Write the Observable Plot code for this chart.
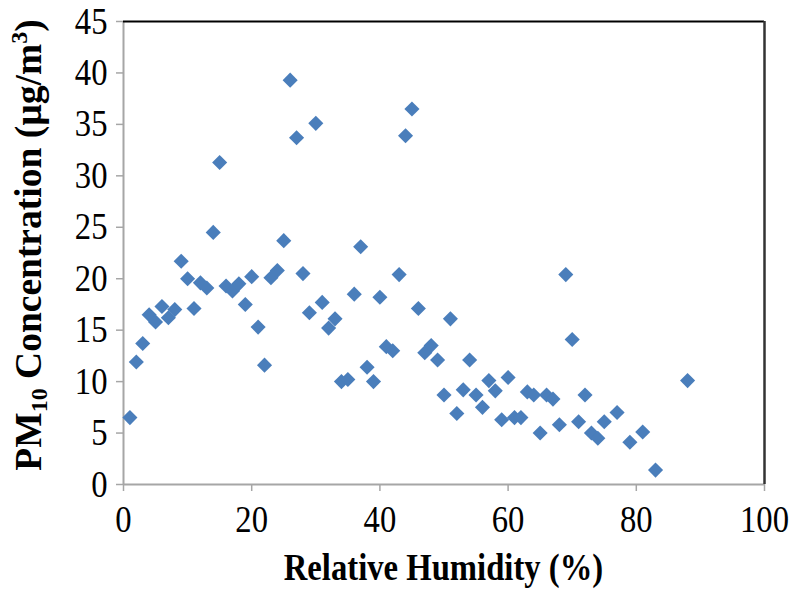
<!DOCTYPE html>
<html><head><meta charset="utf-8">
<script src="https://cdn.jsdelivr.net/npm/d3@7"></script>
<script src="https://cdn.jsdelivr.net/npm/@observablehq/plot@0.6"></script>
<style>body{margin:0;background:#fff}</style>
</head><body><div id="chart"></div>
<script>
// Relative humidity (%) for each observation
const humidity = [1,2,3,4,5,6,7,8,9,10,11,12,13,14,15,16,17,18,19,20,21,22,23,24,25,26,27,28,29,30,31,32,33,34,35,36,37,38,39,40,41,42,43,44,45,46,47,48,49,50,51,52,53,54,55,56,57,58,59,60,61,62,63,64,65,66,67,68,69,70,71,72,73,74,75,77,79,81,83,88];
// PM10 concentration (µg/m3) for each observation
const pm10 = [6.5,11.9,13.7,16.5,15.8,17.3,16.2,17.0,21.7,20.0,17.1,19.6,19.1,24.5,31.3,19.3,18.8,19.5,17.5,20.2,15.3,11.6,20.1,20.8,23.7,39.3,33.7,20.5,16.7,35.1,17.7,15.2,16.1,10.0,10.2,18.5,23.1,11.4,10.0,18.2,13.4,13.0,20.4,33.9,36.5,17.1,12.8,13.5,12.1,8.7,16.1,6.9,9.2,12.1,8.7,7.5,10.1,9.1,6.3,10.4,6.5,6.5,9.0,8.7,5.0,8.7,8.3,5.8,20.4,14.1,6.1,8.7,5.0,4.5,6.1,7.0,4.1,5.1,1.4,10.1];
const xTicks = [0,20,40,60,80,100];
const yTicks = [0,5,10,15,20,25,30,35,40,45];
const xTitle = "Relative Humidity (%)";

const data = humidity.map((h, i) => ({h, pm: pm10[i]}));

const chart = Plot.plot({
  width: 797, height: 595,
  marginLeft: 123, marginRight: 33, marginTop: 21, marginBottom: 111,
  style: {fontFamily: "Liberation Serif", fontSize: "32.7px", background: "#fff", color: "#000", overflow: "visible"},
  x: {domain: [0, 100]},
  y: {domain: [0, 45]},
  marks: [
    Plot.axisX({ticks: xTicks, tickSize: 7, tickPadding: 14, stroke: "#a6a6a6", strokeWidth: 1.5, label: null, tickFormat: d => d}),
    Plot.axisY({ticks: yTicks, tickSize: 7, tickPadding: 9, stroke: "#a6a6a6", strokeWidth: 1.5, label: null, tickFormat: d => d}),
    Plot.ruleY([0], {stroke: "#a6a6a6", strokeWidth: 2}),
    Plot.ruleX([0], {stroke: "#a6a6a6", strokeWidth: 2}),
    Plot.ruleY([45], {stroke: "#000", strokeWidth: 2}),
    Plot.ruleX([100], {stroke: "#333", strokeWidth: 2.5}),
    Plot.dot(data, {x: "h", y: "pm", symbol: "diamond2", r: 6.8, fill: "#4A7EBB", stroke: "none"})
  ]
});

// stretch tick labels vertically like the source image
chart.querySelectorAll('g[aria-label$="tick label"] text').forEach(t => {
  const tr = t.getAttribute("transform");
  if (tr) t.setAttribute("transform", tr + " scale(1,1.15)");
  else {
    const x = t.getAttribute("x") || 0, y = t.getAttribute("y") || 0;
    t.removeAttribute("x"); t.removeAttribute("y");
    t.setAttribute("transform", `translate(${x},${y}) scale(1,1.15)`);
  }
});

const svg = d3.select(chart);
svg.append("text")
  .attr("transform", "translate(443.5,580) scale(1,1.15)")
  .attr("text-anchor", "middle").attr("font-weight", "bold").attr("fill", "#000")
  .text(xTitle);

const yt = svg.append("text")
  .attr("transform", "translate(41,245) rotate(-90)")
  .attr("text-anchor", "middle").attr("font-weight", "bold").attr("fill", "#000")
  .attr("font-size", "37.5px");
yt.append("tspan").text("PM");
yt.append("tspan").attr("font-size", "24px").attr("dy", 6).text("10");
yt.append("tspan").attr("dy", -6).text(" Concentration (µg/m");
yt.append("tspan").attr("font-size", "24px").attr("dy", -14).text("3");
yt.append("tspan").attr("dy", 14).text(")");

document.getElementById("chart").appendChild(chart);
</script>
</body></html>
